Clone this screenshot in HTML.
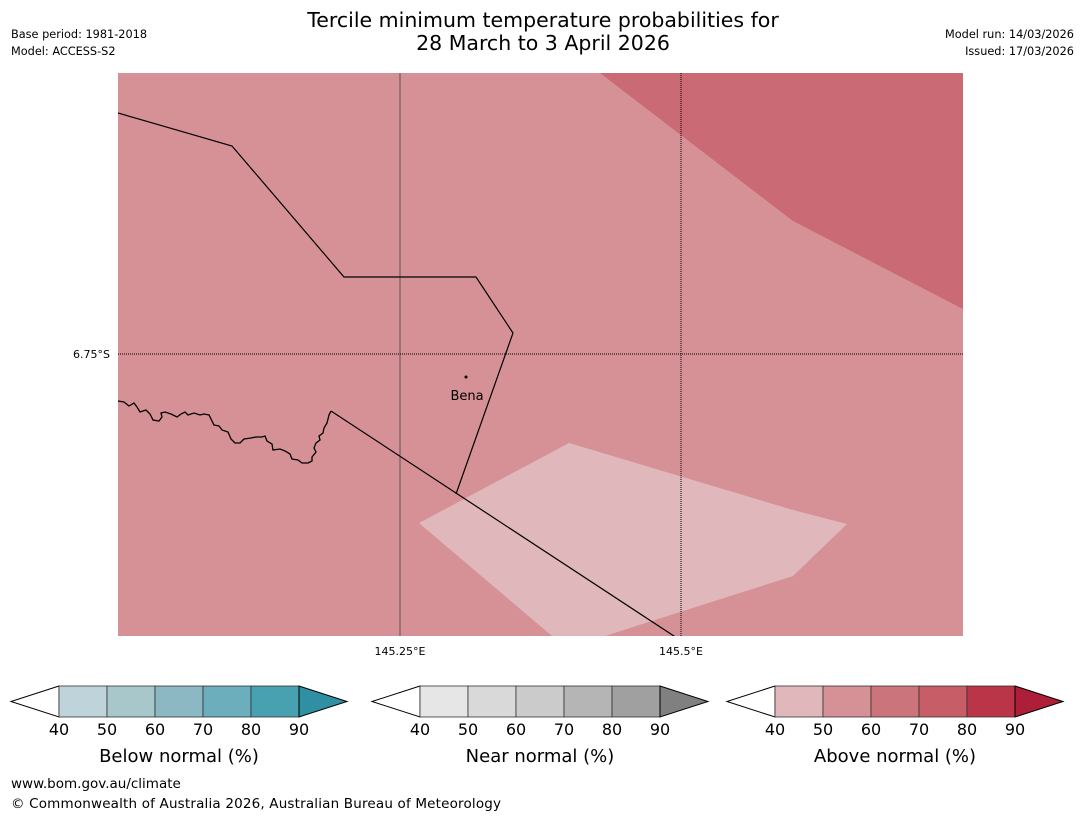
<!DOCTYPE html>
<html><head><meta charset="utf-8"><style>
body{margin:0;background:#fff;width:1085px;height:816px;overflow:hidden;font-family:"Liberation Sans","DejaVu Sans",sans-serif}
svg text{font-family:"DejaVu Sans","Liberation Sans",sans-serif}
</style></head><body>
<svg width="1085" height="816">
<text x="543" y="27" font-size="20.5" text-anchor="middle">Tercile minimum temperature probabilities for</text>
<text x="543" y="50" font-size="20.5" text-anchor="middle">28 March to 3 April 2026</text>
<text x="11" y="38" font-size="11.3">Base period: 1981-2018</text>
<text x="11" y="55" font-size="11.3">Model: ACCESS-S2</text>
<text x="1074" y="38" font-size="11.3" text-anchor="end">Model run: 14/03/2026</text>
<text x="1074" y="55" font-size="11.3" text-anchor="end">Issued: 17/03/2026</text>
<defs><clipPath id="mc"><rect x="118" y="73" width="845" height="563"/></clipPath></defs>
<g clip-path="url(#mc)">
<rect x="118" y="73" width="845" height="563" fill="#d69197"/>
<polygon points="600,73 963,73 963,309 793,221" fill="#c96a74"/>
<polygon points="419,523 569,443 793,510 847,524 793,576 605,636 552,636" fill="#e0b8bc"/>
<line x1="400" y1="73" x2="400" y2="636" stroke="#555" stroke-width="1"/>
<line x1="681" y1="73" x2="681" y2="636" stroke="#000" stroke-width="1" stroke-dasharray="1,1"/>
<line x1="118" y1="354" x2="963" y2="354" stroke="#000" stroke-width="1" stroke-dasharray="1,1"/>
<polyline points="118,113 232,146 344,277 476,277 513,333 456,494" fill="none" stroke="#000" stroke-width="1.2"/>
<polyline points="331,411 680,640" fill="none" stroke="#000" stroke-width="1.2"/>
<path d="M118,401 L124,402 L129,406 L134,403 L137,407 L140,412 L146,410 L150,414 L153,420 L159,421 L162,417 L161,413 L165,412 L171,414 L177,417 L181,414 L185,412 L188,415 L194,413 L200,415 L204,414 L209,415 L211,419 L214,425 L219,426 L222,430 L228,432 L231,439 L235,443 L240,443 L244,439 L251,438 L256,437 L262,437 L265,436 L267,441 L272,444 L273,450 L280,449 L285,451 L290,454 L292,459 L298,460 L302,463 L308,463 L312,461 L312,457 L316,452 L314,448 L316,443 L320,440 L319,436 L323,433 L324,428 L327,423 L329,415 L331,411" fill="none" stroke="#000" stroke-width="1.3"/>
</g>
<circle cx="466" cy="377" r="1.5" fill="#000"/>
<text x="467" y="400" font-size="13" text-anchor="middle">Bena</text>
<text x="110" y="358" font-size="11" text-anchor="end">6.75°S</text>
<text x="400" y="655" font-size="11" text-anchor="middle">145.25°E</text>
<text x="681" y="655" font-size="11" text-anchor="middle">145.5°E</text>
<g id="bars"></g>
<text x="11" y="788" font-size="13.5">www.bom.gov.au/climate</text>
<text x="11" y="808" font-size="13.5" textLength="490">© Commonwealth of Australia 2026, Australian Bureau of Meteorology</text>
</svg>
<script>
const tickLabels=["40","50","60","70","80","90"];
const barTitles=["Below normal (%)","Near normal (%)","Above normal (%)"];
const barNames=["below-normal","near-normal","above-normal"];
const barColors=[["#bfd4da","#a8c7cb","#8bb8c3","#6caebb","#48a1b1","#2f8fa3"],["#e6e6e6","#d9d9d9","#cbcbcb","#b5b5b5","#a0a0a0","#808080"],["#e0b8bc","#d69197","#cc747b","#c65d67","#bb3549","#ae1e38"]];
const barStarts=[59,420,775];
const ns="http://www.w3.org/2000/svg",g=document.getElementById("bars");
function mk(t,a,p){const e=document.createElementNS(ns,t);for(const k in a)e.setAttribute(k,a[k]);(p||g).appendChild(e);return e;}
barStarts.forEach((x0,b)=>{
 const grp=mk("g",{});
 
 
 const y0=686,h=31,w=48;
 const l=mk("polygon",{points:`${x0},${y0} ${x0-48},${y0+h/2} ${x0},${y0+h}`,fill:"#fff",stroke:"#000","stroke-width":1},grp);
 
 
 for(let i=0;i<5;i++){
  const r=mk("rect",{x:x0+i*w,y:y0,width:w,height:h,fill:barColors[b][i],stroke:"#333","stroke-width":0.8},grp);
  
  
 }
 const xe=x0+5*w;
 const a=mk("polygon",{points:`${xe},${y0} ${xe+48},${y0+h/2} ${xe},${y0+h}`,fill:barColors[b][5],stroke:"#000","stroke-width":1},grp);
 
 
 tickLabels.forEach((t,i)=>{
  const tx=mk("text",{x:x0+i*w,y:735,"font-size":16,"text-anchor":"middle"},grp);tx.textContent=t;
  
  
 });
 const tt=mk("text",{x:x0+2.5*w,y:762,"font-size":18,"text-anchor":"middle"},grp);tt.textContent=barTitles[b];
 
 
});
</script>
</body></html>
